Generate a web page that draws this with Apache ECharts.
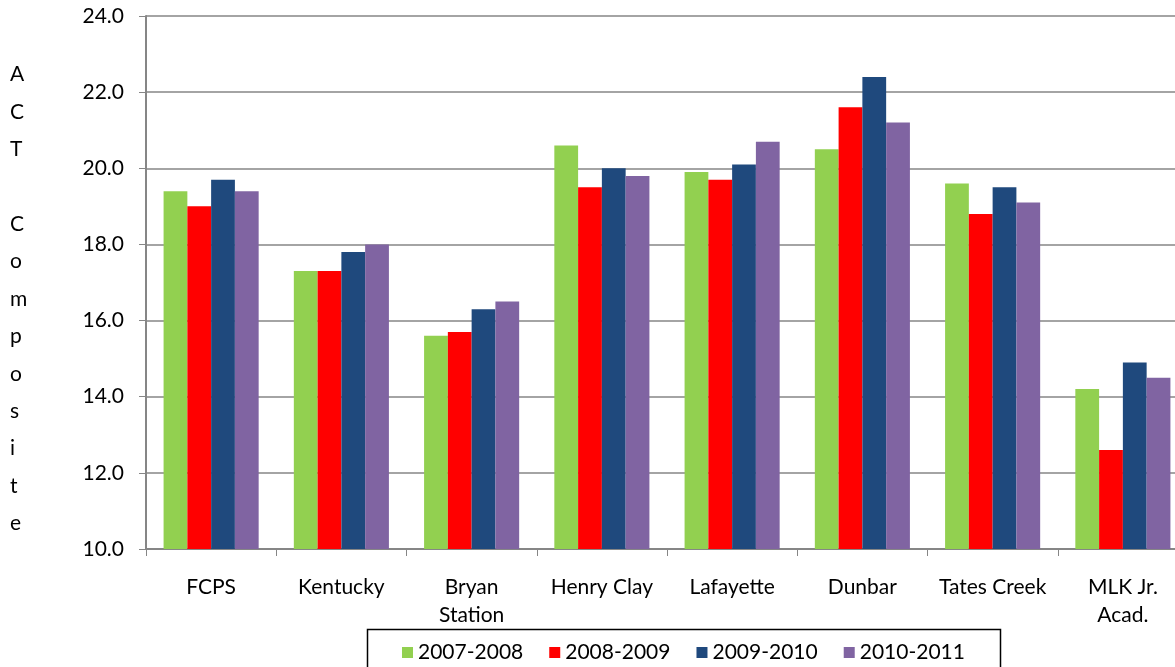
<!DOCTYPE html>
<html><head><meta charset="utf-8">
<script src="https://cdn.jsdelivr.net/npm/echarts@6/dist/echarts.min.js"></script>
<style>html,body{margin:0;padding:0;background:#fff}#c{width:1175px;height:667px}</style>
</head><body><div id="c"></div>
<script>
const categories = ['FCPS', 'Kentucky', 'Bryan\nStation', 'Henry Clay', 'Lafayette', 'Dunbar', 'Tates Creek', 'MLK Jr.\nAcad.'];
const seriesNames = ['2007-2008', '2008-2009', '2009-2010', '2010-2011'];
const s2007 = [19.4, 17.3, 15.6, 20.6, 19.9, 20.5, 19.6, 14.2];
const s2008 = [19.0, 17.3, 15.7, 19.5, 19.7, 21.6, 18.8, 12.6];
const s2009 = [19.7, 17.8, 16.3, 20.0, 20.1, 22.4, 19.5, 14.9];
const s2010 = [19.4, 18.0, 16.5, 19.8, 20.7, 21.2, 19.1, 14.5];
const yTicks = [10, 12, 14, 16, 18, 20, 22, 24];
const yTitle = 'ACT Composite';

const colors = ['#92D050', '#FF0000', '#1F497D', '#8064A2'];
const FONT = 'Lato, "Liberation Sans", sans-serif';
const chart = echarts.init(document.getElementById('c'), null, {renderer: 'canvas'});
const mk = (name, data, i) => ({
  name, type: 'bar', data, barGap: '0%', barCategoryGap: '27%',
  itemStyle: {color: colors[i]}, animation: false
});
chart.setOption({
  animation: false,
  textStyle: {fontFamily: FONT},
  grid: {left: 146, top: 16, bottom: 118, right: -13, containLabel: false, outerBoundsMode: 'none'},
  xAxis: {
    type: 'category', data: categories,
    axisLine: {lineStyle: {color: '#868686', width: 2}},
    axisTick: {show: true, length: 7, lineStyle: {color: '#868686', width: 1}},
    axisLabel: {color: '#000', fontSize: 21, fontFamily: FONT, margin: 24, lineHeight: 28, interval: 0}
  },
  yAxis: {
    type: 'value', min: yTicks[0], max: yTicks[yTicks.length - 1], interval: 2,
    axisLine: {show: true, lineStyle: {color: '#868686', width: 2}},
    axisTick: {show: true, length: 7, lineStyle: {color: '#868686', width: 1}},
    splitLine: {show: true, lineStyle: {color: '#868686', width: 1.5}},
    axisLabel: {color: '#000', fontSize: 21, fontFamily: FONT, margin: 22, formatter: v => v.toFixed(1)}
  },
  legend: {
    data: seriesNames, left: 397, top: 637, itemWidth: 11, itemHeight: 11, itemGap: 26,
    icon: 'rect', textStyle: {fontSize: 21, fontFamily: FONT, color: '#000'}
  },
  graphic: [
    {type: 'rect', shape: {x: 367.5, y: 629.5, width: 633, height: 60},
     style: {fill: 'none', stroke: '#000', lineWidth: 1.5}, z: -1},
    {type: 'text', left: 10, top: 56,
     style: {text: 'A\nC\nT\n\nC\no\nm\np\no\ns\ni\nt\ne', fontSize: 21, fontFamily: FONT,
             fill: '#000', lineHeight: 37.4, align: 'center', width: 20}}
  ],
  series: [mk(seriesNames[0], s2007, 0), mk(seriesNames[1], s2008, 1), mk(seriesNames[2], s2009, 2), mk(seriesNames[3], s2010, 3)]
});
</script></body></html>
